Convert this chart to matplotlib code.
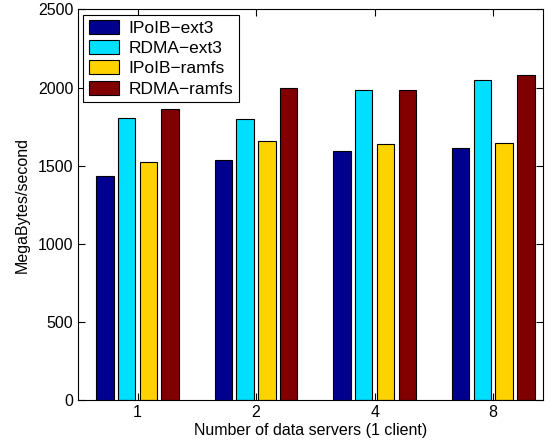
import matplotlib.pyplot as plt
import numpy as np

plt.rcParams['font.family'] = ['Liberation Sans', 'DejaVu Sans']
plt.rcParams['font.size'] = 11.5

servers = ['1', '2', '4', '8']
series_names = ['IPoIB\u2212ext3', 'RDMA\u2212ext3', 'IPoIB\u2212ramfs', 'RDMA\u2212ramfs']
ipoib_ext3 = [1432, 1536, 1592, 1613]
rdma_ext3 = [1807, 1799, 1986, 2049]
ipoib_ramfs = [1524, 1658, 1637, 1647]
rdma_ramfs = [1863, 1999, 1986, 2081]
colors = ['#00008f', '#00dfff', '#ffd200', '#800000']

fig = plt.figure(figsize=(5.56, 4.46), dpi=100)
ax = fig.add_axes([0.1408, 0.1031, 0.8358, 0.8757])

x = np.arange(1, len(servers) + 1)
width = 0.147
offsets = [-0.275, -0.092, 0.092, 0.275]
all_series = [ipoib_ext3, rdma_ext3, ipoib_ramfs, rdma_ramfs]
for vals, off, col, name in zip(all_series, offsets, colors, series_names):
    ax.bar(x + off, vals, width, color=col, edgecolor='black', linewidth=0.8, label=name)

ax.set_xlim(0.5, 4.42)
ax.set_ylim(0, 2500)
ax.set_xticks(x)
ax.set_xticklabels(servers)
ax.set_yticks(np.arange(0, 2501, 500))
ax.tick_params(direction='in', top=True, right=True, length=5, width=0.8)
for s in ax.spines.values():
    s.set_linewidth(0.8)

ax.set_xlabel('Number of data servers (1 client)', labelpad=2)
ax.set_ylabel('MegaBytes/second', labelpad=6)

leg = ax.legend(loc='upper left', fancybox=False, edgecolor='black', framealpha=1,
                fontsize=12.5, handlelength=1.75, handleheight=0.85, borderpad=0.3,
                labelspacing=0.25, borderaxespad=0.3, handletextpad=0.55)
leg.get_frame().set_linewidth(0.8)

fig.savefig('out.png', dpi=100)
